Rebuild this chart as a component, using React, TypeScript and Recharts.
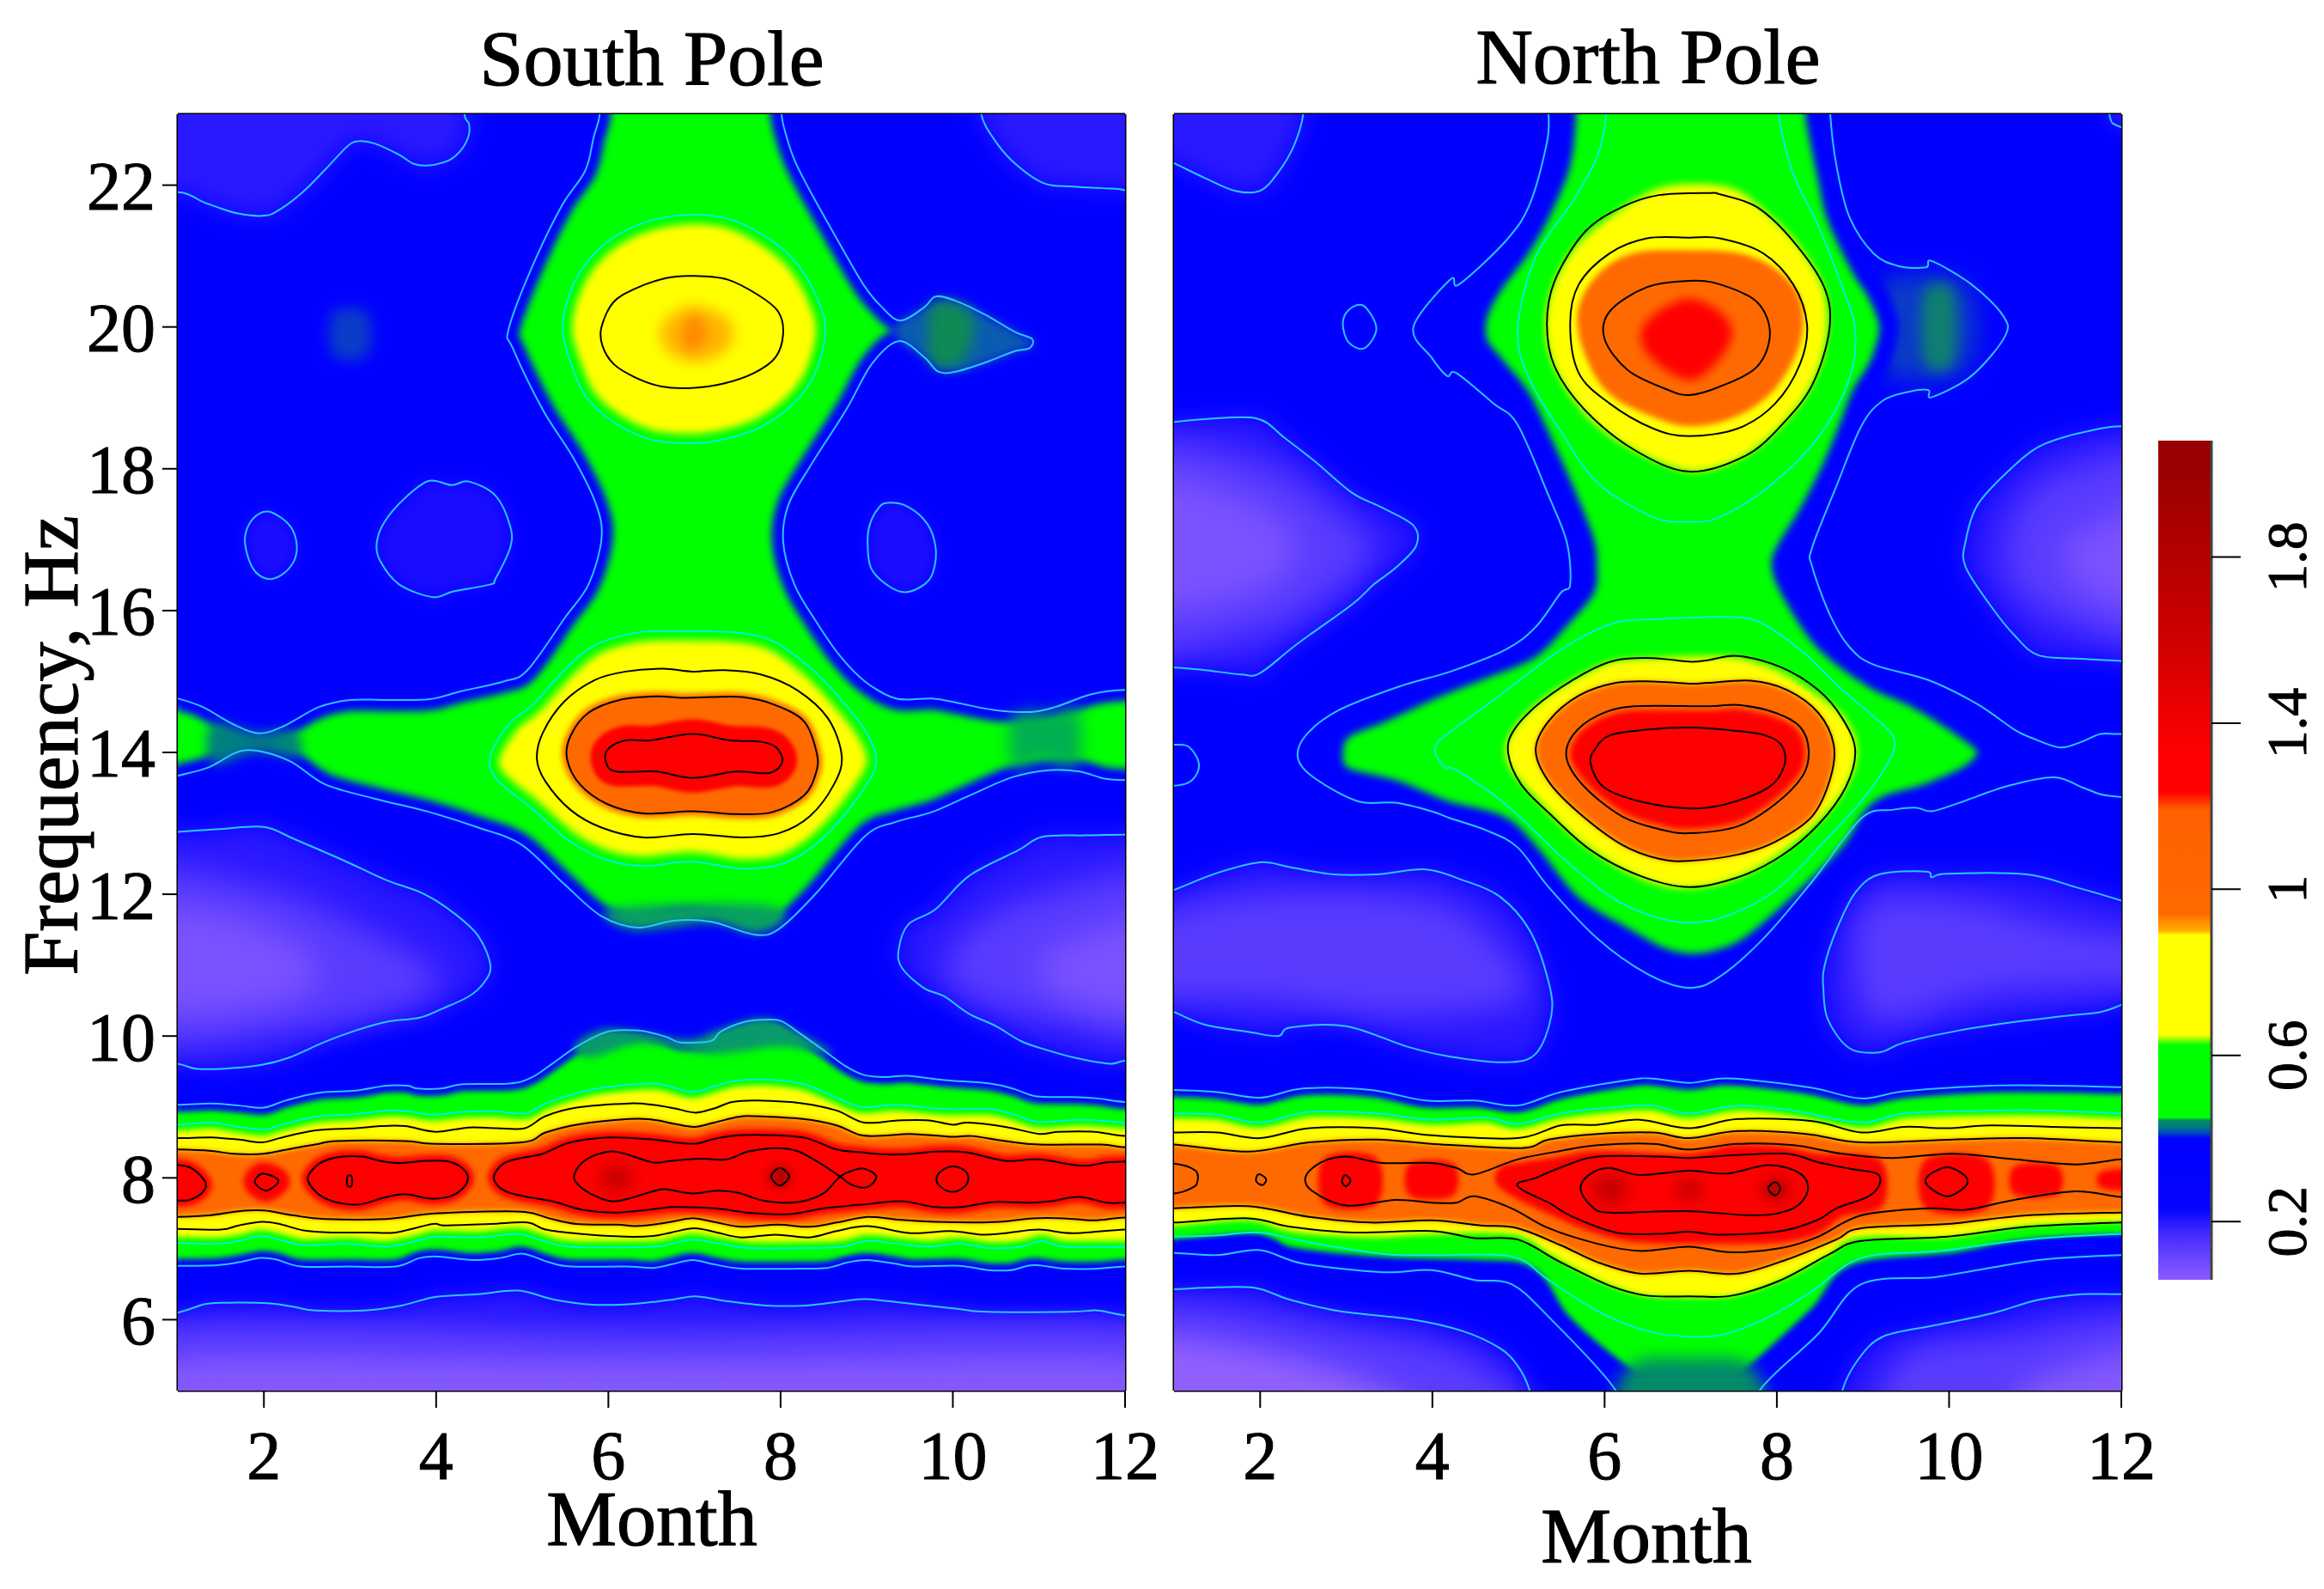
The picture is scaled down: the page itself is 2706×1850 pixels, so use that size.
import { BarChart, Bar, ScatterChart, Scatter, XAxis, YAxis } from "recharts"

type Ring = [number, number][]

const monthTicks = [2, 4, 6, 8, 10, 12]
const freqTicks = [6, 8, 10, 12, 14, 16, 18, 20, 22]
const scaleTicks = [0.2, 0.6, 1, 1.4, 1.8]

// colour scale: values and the colour at each
const scaleValues = [0.06, 0.12, 0.18, 0.23, 0.4, 0.415, 0.43, 0.445, 0.45, 0.625, 0.65, 0.89, 0.9, 0.93, 0.94, 1.19, 1.235, 1.32, 1.59, 1.8, 1.99, 2.08]
const scaleColors = ["#8a5cff", "#6642ff", "#3c24ff", "#0404ff", "#0000ff", "#0050b8", "#007c80", "#009060", "#00ff00", "#00ff00", "#ffff00", "#ffff00", "#ffb000", "#ff8000", "#ff6a00", "#ff6000", "#ff0000", "#ff0000", "#d00000", "#b40000", "#9c0000", "#960000"]

// ---- South Pole contours, [month, Hz] ----
const southTopLeft: Ring = [[0.5,21.7],[0.99,21.9],[1.34,21.74],[1.7,21.6],[2.01,21.57],[2.19,21.66],[2.45,21.9],[2.72,22.23],[2.97,22.55],[3.1,22.62],[3.28,22.59],[3.57,22.43],[3.74,22.3],[3.92,22.28],[4.15,22.35],[4.3,22.51],[4.38,22.71],[4.38,22.87],[4.33,22.99],[4.3,23.5],[0.5,23.5]]
const southTopRight: Ring = [[10.3,23.5],[10.33,23],[10.46,22.68],[10.69,22.34],[11.05,22.03],[11.4,21.98],[11.9,21.95],[12.5,21.93],[12.5,23.5]]
const southEye2: Ring = [[1.78,16.95],[1.82,17.2],[1.95,17.37],[2.1,17.38],[2.3,17.2],[2.38,16.95],[2.35,16.7],[2.2,16.5],[2.03,16.45],[1.87,16.6]]
const southEye4: Ring = [[3.31,16.95],[3.4,17.25],[3.65,17.6],[3.92,17.83],[4.18,17.77],[4.38,17.82],[4.69,17.62],[4.86,17.19],[4.86,16.89],[4.69,16.45],[4.63,16.37],[4.2,16.27],[3.96,16.19],[3.57,16.37],[3.35,16.7]]
const southEye9: Ring = [[9.24,17.52],[9.47,17.47],[9.7,17.23],[9.8,16.89],[9.77,16.54],[9.67,16.37],[9.45,16.26],[9.25,16.35],[9.05,16.6],[9.01,16.97],[9.04,17.23],[9.14,17.45]]
const southLowLeft: Ring = [[0.5,12.85],[1,12.88],[1.5,12.92],[2,12.95],[2.35,12.78],[2.92,12.48],[3.42,12.2],[3.85,12.01],[4.21,11.73],[4.49,11.41],[4.63,11],[4.56,10.76],[4.38,10.56],[4.06,10.38],[3.81,10.26],[3.42,10.2],[3.07,10.08],[2.71,9.92],[2.28,9.69],[1.96,9.59],[1.54,9.54],[1.21,9.54],[1,9.61],[0.5,9.7]]
const southLowRight: Ring = [[12.5,12.84],[12,12.84],[11.54,12.83],[11.04,12.81],[10.76,12.62],[10.19,12.26],[9.8,11.79],[9.48,11.57],[9.37,11.21],[9.41,10.96],[9.66,10.68],[9.9,10.56],[10.18,10.32],[10.5,10.14],[10.79,9.93],[11.07,9.81],[11.43,9.69],[11.82,9.61],[12,9.65],[12.5,9.7]]
const southFloor: Ring = [[0.5,6],[1,6.1],[1.32,6.22],[1.57,6.24],[2.07,6.23],[2.35,6.18],[2.6,6.13],[3.17,6.13],[3.6,6.2],[3.99,6.32],[4.49,6.36],[4.95,6.41],[5.38,6.28],[5.81,6.21],[6.27,6.22],[6.52,6.25],[6.73,6.28],[7.01,6.33],[7.33,6.27],[7.83,6.2],[8.3,6.2],[8.72,6.26],[9.01,6.29],[9.54,6.22],[10.07,6.15],[10.4,6.11],[11.36,6.11],[11.68,6.13],[12,6.06],[12.5,6],[12.5,4.5],[0.5,4.5]]

const southBody: Ring = [[5.9,23.5],[5.9,23],[5.83,22.68],[5.73,22.2],[5.45,21.69],[5.09,20.78],[4.84,19.96],[4.89,19.7],[5.24,18.83],[5.6,18.14],[5.86,17.49],[5.92,17.01],[5.77,16.37],[5.49,15.89],[5.06,15.16],[4.78,15],[4.28,14.86],[3.92,14.75],[3.42,14.74],[3,14.74],[2.64,14.64],[2.21,14.36],[1.93,14.27],[1.64,14.4],[1.29,14.64],[1,14.76],[0.5,14.9],[0.5,13.5],[1,13.67],[1.36,13.79],[1.78,14.03],[2.28,13.89],[2.71,13.55],[3.28,13.35],[3.92,13.16],[4.49,12.94],[4.99,12.7],[5.49,12.14],[5.92,11.69],[6.34,11.53],[6.77,11.63],[7.2,11.61],[7.7,11.43],[7.98,11.51],[8.41,12.01],[8.98,12.82],[9.34,13.02],[9.76,13.16],[10.19,13.39],[10.69,13.65],[11.11,13.75],[11.47,13.73],[11.76,13.63],[12,13.61],[12.5,13.6],[12.5,14.85],[12,14.88],[11.61,14.82],[11.19,14.64],[10.9,14.57],[10.47,14.6],[10.05,14.7],[9.76,14.76],[9.34,14.76],[8.98,15],[8.69,15.36],[8.41,15.85],[8.16,16.37],[8.03,16.97],[8.09,17.49],[8.35,18.05],[8.76,18.83],[9.06,19.48],[9.37,19.8],[9.67,19.57],[9.83,19.37],[10.03,19.37],[10.38,19.5],[10.72,19.66],[10.89,19.7],[10.92,19.83],[10.72,19.93],[10.38,20.17],[10.03,20.37],[9.8,20.43],[9.67,20.28],[9.39,20.09],[9.16,20.3],[8.96,20.6],[8.65,21.25],[8.35,21.9],[8.17,22.33],[8.07,22.68],[8.01,23],[8,23.5]]
const southOval20: Ring = [[6.92,21.58],[7.38,21.53],[7.79,21.3],[8.15,20.95],[8.4,20.47],[8.52,19.96],[8.4,19.35],[8.15,18.92],[7.74,18.57],[7.28,18.4],[6.92,18.36],[6.47,18.42],[6.06,18.66],[5.75,19],[5.58,19.44],[5.47,19.96],[5.55,20.47],[5.75,20.91],[6.06,21.26],[6.47,21.49]]
const southBlack20: Ring = [[6.97,20.72],[7.38,20.67],[7.74,20.45],[7.97,20.22],[8.03,19.91],[7.94,19.57],[7.69,19.35],[7.33,19.2],[6.97,19.14],[6.62,19.16],[6.31,19.29],[6.06,19.48],[5.93,19.74],[5.92,20],[6.06,20.35],[6.31,20.54],[6.67,20.69]]
const southSpot20: Ring = [[6.6,19.9],[6.7,20.15],[7,20.3],[7.35,20.15],[7.45,19.9],[7.35,19.65],[7,19.5],[6.7,19.65]]
const southSpot20Core: Ring = [[6.85,19.9],[6.9,20.1],[7.05,20.15],[7.15,19.9],[7.05,19.7],[6.9,19.7]]
const southOval14: Ring = [[6.34,15.69],[5.84,15.51],[5.49,15.16],[5.13,14.68],[4.85,14.4],[4.63,13.95],[4.7,13.63],[5.13,13.19],[5.56,12.74],[5.99,12.48],[6.41,12.4],[6.98,12.46],[7.55,12.36],[8.05,12.44],[8.48,12.78],[8.91,13.39],[9.11,13.87],[8.98,14.31],[8.69,14.76],[8.34,15.2],[7.91,15.57],[7.48,15.69],[6.84,15.71]]
const southBlack14A: Ring = [[6.63,15.18],[6.2,15.14],[5.84,15.02],[5.49,14.72],[5.24,14.28],[5.17,13.91],[5.27,13.59],[5.56,13.19],[5.92,12.94],[6.41,12.8],[6.98,12.85],[7.55,12.8],[7.98,12.86],[8.34,13.1],[8.62,13.55],[8.71,13.95],[8.55,14.48],[8.19,14.88],[7.77,15.1],[7.34,15.16],[6.98,15.14]]
const southBlack14B: Ring = [[6.56,14.79],[6.13,14.74],[5.77,14.56],[5.56,14.23],[5.52,13.91],[5.67,13.55],[5.99,13.27],[6.41,13.14],[6.98,13.17],[7.48,13.13],[7.91,13.16],[8.27,13.39],[8.41,13.71],[8.42,13.99],[8.27,14.44],[7.91,14.68],[7.55,14.78],[7.2,14.78],[6.84,14.77]]
const southBlack14C: Ring = [[6.98,14.26],[6.49,14.17],[6.2,14.17],[6,14.05],[5.97,13.87],[6.09,13.73],[6.56,13.73],[6.98,13.64],[7.48,13.73],[7.87,13.71],[8.02,13.87],[7.95,14.07],[7.77,14.15],[7.41,14.17]]

const southBand1Up: Ring = [[1,9.03],[1.39,9.05],[1.71,9.02],[2,8.99],[2.25,9.09],[2.64,9.2],[3.07,9.23],[3.42,9.3],[3.67,9.3],[3.78,9.26],[4.06,9.26],[4.31,9.32],[4.85,9.33],[5.1,9.41],[5.35,9.61],[5.63,9.85],[5.99,10.06],[6.31,10.08],[6.52,10.04],[6.69,9.98],[6.84,9.91],[7.19,9.93],[7.3,10.06],[7.58,10.2],[7.83,10.23],[8.01,10.21],[8.22,10.04],[8.51,9.79],[8.76,9.57],[8.97,9.45],[9.22,9.42],[9.47,9.44],[9.9,9.38],[10.43,9.33],[10.72,9.25],[10.97,9.15],[11.39,9.14],[11.68,9.12],[12,9.07]]
const southBand1Low: Ring = [[1,6.76],[1.46,6.77],[1.71,6.81],[1.96,6.87],[2.14,6.85],[2.43,6.75],[2.99,6.75],[3.53,6.75],[3.81,6.87],[4.03,6.89],[4.42,6.84],[4.74,6.87],[5.01,6.93],[5.31,6.81],[5.56,6.75],[6.2,6.75],[6.52,6.73],[6.73,6.78],[6.98,6.84],[7.23,6.78],[7.55,6.72],[8.22,6.72],[8.54,6.73],[8.79,6.81],[9.01,6.84],[9.33,6.79],[9.54,6.75],[10.07,6.76],[10.4,6.7],[10.68,6.7],[10.93,6.77],[11.29,6.72],[11.68,6.72],[12,6.75]]
const southBand2Up: Ring = [[1,8.75],[1.39,8.78],[1.71,8.72],[2,8.68],[2.18,8.74],[2.6,8.86],[3.07,8.9],[3.42,8.95],[3.67,8.94],[3.96,8.89],[4.31,8.93],[4.67,8.94],[5.03,8.91],[5.27,9.05],[5.56,9.17],[5.92,9.27],[6.52,9.33],[6.77,9.27],[6.98,9.21],[7.23,9.29],[7.48,9.37],[7.94,9.38],[8.3,9.31],[8.65,9.13],[8.94,9],[9.36,9.03],[9.9,8.97],[10.43,8.97],[10.72,8.89],[11,8.79],[11.5,8.82],[12,8.78]]
const southBand2Low: Ring = [[1,7.08],[1.46,7.07],[1.71,7.11],[1.96,7.18],[2.18,7.13],[2.46,7.05],[2.96,7.07],[3.42,7.03],[3.78,7.11],[3.99,7.17],[4.49,7.16],[4.95,7.21],[5.2,7.13],[5.56,7.03],[6.52,7.03],[6.73,7.07],[6.98,7.13],[7.3,7.07],[7.65,7.01],[8.3,7.01],[8.72,7.03],[9.01,7.11],[9.36,7.07],[9.72,7.03],[10.07,7.07],[10.43,7.01],[10.79,7.03],[11.04,7.11],[11.29,7.03],[12,7.03]]
const southBand3Up: Ring = [[1,8.56],[1.39,8.57],[1.71,8.54],[1.98,8.5],[2.18,8.56],[2.6,8.67],[3.07,8.7],[3.35,8.73],[3.64,8.73],[3.99,8.65],[4.38,8.71],[4.7,8.7],[5.03,8.7],[5.27,8.87],[5.63,8.99],[6.24,9.05],[6.52,9.03],[6.77,8.98],[7.01,8.92],[7.23,8.98],[7.44,9.07],[7.73,9.09],[8.26,9.05],[8.65,8.95],[8.97,8.78],[9.36,8.81],[9.72,8.81],[10,8.75],[10.18,8.78],[10.61,8.72],[11,8.62],[11.22,8.65],[11.64,8.65],[12,8.59]]
const southBand3Low: Ring = [[1,7.28],[1.5,7.27],[1.71,7.33],[1.98,7.38],[2.18,7.35],[2.46,7.26],[2.78,7.23],[3.21,7.23],[3.53,7.23],[3.96,7.35],[4.1,7.33],[4.63,7.35],[5.06,7.37],[5.27,7.27],[5.67,7.21],[6.2,7.17],[6.52,7.18],[6.73,7.23],[7,7.29],[7.26,7.23],[7.55,7.16],[7.94,7.2],[8.33,7.16],[8.65,7.25],[9.01,7.32],[9.51,7.22],[9.97,7.25],[10.33,7.2],[10.61,7.22],[11,7.27],[11.39,7.22],[12,7.27]]
const southBand4Up: Ring = [[1,8.4],[1.39,8.38],[1.64,8.34],[2,8.34],[2.35,8.42],[2.64,8.48],[2.85,8.52],[3.64,8.52],[3.99,8.48],[4.99,8.5],[5.27,8.64],[5.63,8.75],[6.24,8.83],[6.52,8.82],[6.77,8.76],[7,8.72],[7.23,8.78],[7.51,8.86],[7.69,8.87],[8.26,8.83],[8.65,8.74],[8.94,8.6],[9.26,8.6],[9.51,8.62],[9.97,8.58],[10.22,8.59],[10.61,8.52],[11,8.47],[11.71,8.47],[12,8.43]]
const southBand4Low: Ring = [[1,7.45],[1.36,7.47],[1.71,7.53],[2,7.54],[2.35,7.47],[2.71,7.42],[3.42,7.42],[3.89,7.49],[4.42,7.52],[5.03,7.52],[5.31,7.43],[5.63,7.35],[6.09,7.34],[6.31,7.32],[6.52,7.34],[6.77,7.39],[7,7.43],[7.26,7.37],[7.55,7.31],[7.97,7.34],[8.33,7.31],[8.65,7.37],[9.01,7.45],[9.36,7.41],[9.79,7.38],[10.25,7.37],[10.54,7.38],[10.93,7.43],[11.29,7.43],[11.64,7.4],[12,7.44]]

const southRedEdge: Ring = [[0.6,8.18],[1,8.18],[1.18,8.12],[1.32,7.94],[1.29,7.8],[1.14,7.69],[1,7.68],[0.6,7.68]]
const southRed2: Ring = [[2,8.06],[2.14,8],[2.16,7.92],[2.02,7.82],[1.9,7.92],[1.92,8.01]]
const southRed3: Ring = [[2.51,8],[2.64,8.2],[2.85,8.29],[3.14,8.3],[3.35,8.24],[3.57,8.21],[3.89,8.24],[4.14,8.23],[4.3,8.14],[4.37,8],[4.3,7.84],[4.14,7.73],[3.92,7.71],[3.64,7.77],[3.39,7.72],[3.14,7.63],[2.96,7.63],[2.75,7.69],[2.59,7.82]]
const southRedMain: Ring = [[4.67,8],[4.78,8.2],[4.99,8.28],[5.24,8.34],[5.56,8.5],[6.02,8.57],[6.52,8.54],[6.77,8.5],[7.01,8.48],[7.23,8.55],[7.51,8.6],[7.94,8.6],[8.3,8.56],[8.65,8.4],[8.94,8.36],[9.22,8.33],[9.54,8.34],[9.79,8.37],[10.15,8.36],[10.61,8.24],[11,8.26],[11.5,8.17],[11.79,8.22],[12,8.23],[12.5,8.23],[12.5,7.65],[12,7.65],[11.79,7.65],[11.46,7.73],[11.14,7.67],[10.9,7.65],[10.47,7.66],[10.11,7.59],[9.79,7.59],[9.4,7.67],[9.01,7.63],[8.51,7.57],[8.12,7.49],[7.69,7.5],[7.23,7.57],[6.77,7.59],[6.52,7.56],[6.09,7.51],[5.7,7.55],[5.35,7.67],[5.06,7.73],[4.79,7.82]]
const southInner: Ring = [[5.6,8.02],[5.7,8.22],[5.92,8.35],[6.13,8.36],[6.51,8.22],[6.73,8.24],[7.08,8.27],[7.37,8.26],[7.62,8.37],[7.94,8.42],[8.19,8.38],[8.44,8.22],[8.69,8.02],[8.83,7.9],[9.01,7.87],[9.11,8.02],[8.97,8.13],[8.83,8.1],[8.69,8.02],[8.51,7.79],[8.26,7.67],[8.01,7.65],[7.76,7.69],[7.51,7.79],[7.26,7.82],[6.98,7.78],[6.66,7.84],[6.52,7.81],[6.09,7.67],[5.84,7.75],[5.67,7.88]]
const southRing8: Ring = [[7.99,8.14],[8.1,8.02],[7.99,7.89],[7.89,8.02]]
const southRing10: Ring = [[10,8.16],[10.14,8.1],[10.18,8],[10.14,7.88],[10,7.8],[9.86,7.87],[9.81,7.98],[9.86,8.09]]
const southRing3: Ring = [[2.97,8.02],[3.02,8.02],[3.02,7.89],[2.97,7.89]]
const southDark6: Ring = [[5.9,8],[6.1,8.17],[6.3,8],[6.1,7.83]]
const southDark8: Ring = [[7.85,8.02],[7.99,8.18],[8.13,8.02],[7.99,7.85]]

// darker stretches inside the south green contour
const southTail: Ring = [[9.3,19.95],[9.7,20.28],[10.05,20.36],[10.4,20.15],[10.75,19.92],[10.95,19.75],[10.75,19.66],[10.4,19.5],[10.03,19.38],[9.67,19.57]]
const southTailCore: Ring = [[9.75,20.3],[10.1,20.3],[10.25,20],[10.1,19.5],[9.75,19.5]]
const southFaint3: Ring = [[2.8,20.2],[3.2,20.2],[3.2,19.6],[2.8,19.6]]
const southNeckLeft: Ring = [[1.4,14.4],[1.9,14.28],[2.35,14.3],[2.4,13.95],[1.9,14],[1.4,13.85]]
const southNeckRight: Ring = [[10.7,14.5],[11.2,14.55],[11.45,14.6],[11.45,13.85],[11,13.9],[10.7,13.8]]
const southChin: Ring = [[5.95,11.75],[6.6,11.85],[7.8,11.85],[8.05,11.65],[7.7,11.45],[7.2,11.6],[6.3,11.5]]
const southBump: Ring = [[5.6,9.85],[6,10.1],[6.9,9.95],[7.3,10.1],[7.8,10.25],[8.2,10.05],[8.6,9.75],[8,9.85],[7.2,9.75],[6.4,9.9],[5.8,9.7]]

// violet shading, two steps inside the lowest contours
const southLowLeftMid: Ring = [[0.5,12.2],[2,12.1],[3.2,11.5],[4,10.9],[3.8,10.5],[2.5,10.1],[0.5,10]]
const southLowLeftCore: Ring = [[0.5,11.7],[1.8,11.6],[2.6,11],[2.2,10.5],[0.5,10.4]]
const southLowRightMid: Ring = [[12.5,12.2],[11,12],[10.2,11.5],[9.9,10.9],[10.3,10.5],[11.2,10.2],[12.5,10.1]]
const southLowRightCore: Ring = [[12.5,11.6],[11.5,11.4],[11,11],[11.4,10.5],[12.5,10.4]]
const southFloorMid: Ring = [[0.5,5.85],[6.5,5.85],[12.5,5.85],[12.5,4.5],[0.5,4.5]]
const southFloorCore: Ring = [[0.5,5.4],[6.5,5.4],[12.5,5.4],[12.5,4.5],[0.5,4.5]]

// ---- North Pole contours ----
const northTopLeft: Ring = [[0.5,22.6],[1,22.31],[1.36,22.1],[1.71,21.92],[2,21.92],[2.21,22.18],[2.39,22.55],[2.5,23],[2.5,23.5],[0.5,23.5]]
const northTopRight: Ring = [[11.8,23.5],[11.86,23],[11.97,22.83],[12.5,22.7],[12.5,23.5]]
const northMidLeft: Ring = [[0.5,18.6],[1,18.66],[1.36,18.7],[1.96,18.71],[2.28,18.44],[2.64,18.1],[3.07,17.66],[3.42,17.45],[3.78,17.2],[3.81,16.91],[3.57,16.6],[3.32,16.37],[3.07,16.09],[2.43,15.53],[2,15.12],[1.78,15.1],[1.36,15.16],[1,15.2],[0.5,15.25]]
const northMidRight: Ring = [[12.5,18.5],[12,18.6],[11.47,18.49],[11.04,18.31],[10.69,17.97],[10.33,17.49],[10.19,16.97],[10.19,16.62],[10.47,16.09],[10.76,15.65],[11.04,15.37],[11.54,15.32],[12,15.29],[12.5,15.25]]
const northEdge14: Ring = [[0.5,14.11],[1,14.11],[1.18,14.07],[1.29,13.83],[1.21,13.61],[1,13.53],[0.5,13.53]]
const northEye3: Ring = [[3.2,20.3],[3.35,19.98],[3.21,19.7],[3.03,19.78],[2.96,20.04],[3.03,20.24]]
const northLowLeft: Ring = [[0.5,11.85],[1,12.06],[1.5,12.3],[2,12.45],[2.35,12.38],[2.85,12.28],[3.35,12.28],[3.92,12.35],[4.35,12.2],[4.78,11.97],[5.13,11.49],[5.35,10.76],[5.38,10.28],[5.2,9.75],[4.85,9.63],[4.21,9.71],[3.71,9.85],[3,10.14],[2.35,10.12],[2.21,10],[1.86,10.06],[1.36,10.16],[1,10.34],[0.5,10.6]]
const northLowRight: Ring = [[12.5,11.7],[12,11.91],[11.47,12.1],[10.9,12.28],[9.98,12.29],[9.8,12.24],[9.73,12.32],[9.19,12.28],[8.91,12.02],[8.69,11.49],[8.55,10.97],[8.54,10.68],[8.59,10.24],[8.84,9.83],[9.19,9.77],[9.48,9.91],[10.12,10.08],[10.76,10.2],[11.33,10.28],[11.76,10.34],[12,10.44],[12.5,10.7]]
const northFloorLeft: Ring = [[0.5,6.43],[1,6.43],[1.36,6.45],[1.93,6.45],[2.35,6.28],[2.92,6.12],[3.78,6],[4.35,5.84],[4.78,5.6],[4.99,5.35],[5.13,5],[5.2,4.5],[0.5,4.5]]
const northFloorRight: Ring = [[8.7,4.5],[8.76,5],[8.94,5.43],[9.23,5.76],[9.83,5.92],[10.47,6.08],[11.04,6.28],[11.54,6.36],[12,6.36],[12.5,6.4],[12.5,4.5]]

const northBodyLine: Ring = [[5.35,23.5],[5.35,23],[5.33,22.6],[5.13,21.73],[4.85,21.21],[4.31,20.6],[4.21,20.67],[3.78,20],[3.99,19.57],[4.17,19.31],[4.28,19.35],[4.71,18.92],[4.99,18.62],[5.35,17.62],[5.56,16.97],[5.6,16.37],[5.49,16.25],[5.2,15.77],[4.85,15.45],[4.21,15.14],[3.64,14.94],[2.92,14.6],[2.53,14.24],[2.44,13.91],[2.64,13.63],[3.14,13.31],[3.57,13.29],[3.99,13.17],[4.21,13.07],[4.63,12.9],[4.99,12.66],[5.35,12.1],[5.92,11.37],[6.49,10.88],[6.98,10.68],[7.34,10.84],[7.84,11.37],[8.41,12.18],[8.98,13.07],[9.34,13.19],[9.62,13.22],[9.8,13.17],[10.12,13.29],[10.69,13.53],[11.22,13.65],[11.54,13.51],[11.76,13.41],[12,13.37],[12.5,13.3],[12.5,14.3],[12,14.26],[11.76,14.26],[11.54,14.15],[11.29,14.07],[10.97,14.2],[10.76,14.32],[10.33,14.68],[9.76,15.02],[9.12,15.24],[8.84,15.49],[8.62,15.93],[8.41,16.62],[8.41,16.89],[8.69,17.75],[8.98,18.6],[9.23,18.96],[9.55,19.09],[9.76,19.11],[9.8,19.01],[10.26,19.31],[10.65,19.87],[10.62,20.17],[10.26,20.6],[9.8,20.93],[9.73,20.84],[9.41,20.86],[9.12,21.04],[8.84,21.56],[8.69,22.29],[8.62,23],[8.62,23.5]]
const northBodyGreen: Ring = [[5.56,23.5],[5.56,23],[5.49,22.29],[5.27,21.64],[5.03,21.12],[4.71,20.6],[4.53,20.17],[4.53,19.78],[4.74,19.44],[5.03,19],[5.27,18.4],[5.56,17.62],[5.77,16.97],[5.8,16.6],[5.77,16.29],[5.49,15.89],[5.13,15.45],[4.56,15.16],[3.99,14.88],[3.42,14.56],[2.96,14.32],[2.85,13.99],[2.96,13.67],[3.57,13.47],[4.14,13.19],[4.78,12.98],[5.13,12.58],[5.63,11.85],[6.27,11.37],[6.63,11.13],[6.98,11.03],[7.34,11.09],[7.7,11.29],[8.27,11.89],[8.84,12.58],[9.19,13.19],[9.76,13.43],[10.26,13.71],[10.44,14.03],[10.19,14.32],[9.62,14.76],[9.12,15.04],[8.55,15.57],[8.19,16.21],[8.05,16.62],[8.12,16.89],[8.34,17.32],[8.62,17.97],[8.84,18.61],[8.98,19.05],[9.19,19.48],[9.3,20],[9.16,20.48],[8.98,20.82],[8.69,21.56],[8.59,22.08],[8.44,23],[8.44,23.5]]
const northLine2Up: Ring = [[6.02,23.5],[6.02,23],[5.92,22.42],[5.63,21.77],[5.2,20.99],[4.99,19.96],[5.13,19.26],[5.49,18.53],[5.92,17.8],[6.56,17.32],[6.98,17.25],[7.34,17.32],[7.91,17.75],[8.48,18.44],[8.84,19.26],[8.91,19.96],[8.76,20.56],[8.48,21.43],[8.19,22.16],[8.02,23],[8.02,23.5]]
const northYellow20: Ring = [[7.05,22.16],[6.56,22.08],[6.06,21.73],[5.56,21.21],[5.27,20.56],[5.2,19.9],[5.35,19.27],[5.77,18.57],[6.34,18.1],[6.98,17.82],[7.55,17.97],[8.05,18.4],[8.48,19.05],[8.69,19.78],[8.66,20.56],[8.34,21.25],[7.91,21.77],[7.55,22.08]]
const northBlack20A: Ring = [[7.2,21.89],[6.63,21.86],[6.2,21.69],[5.77,21.34],[5.42,20.65],[5.33,20.04],[5.42,19.44],[5.77,18.83],[6.34,18.27],[6.98,17.96],[7.63,18.18],[8.05,18.61],[8.41,19.18],[8.61,19.96],[8.55,20.56],[8.19,21.21],[7.77,21.69],[7.34,21.87]]
const northBlack20B: Ring = [[6.98,21.26],[6.49,21.25],[6.06,21.04],[5.7,20.6],[5.6,20.04],[5.7,19.35],[6.06,18.92],[6.56,18.57],[6.98,18.46],[7.55,18.57],[7.98,18.92],[8.27,19.48],[8.35,20.04],[8.19,20.6],[7.84,21.04],[7.34,21.25]]
const northOrange20: Ring = [[6.98,21.08],[6.34,21.04],[5.92,20.74],[5.69,20.22],[5.77,19.62],[6.06,19.05],[6.63,18.7],[7.05,18.6],[7.55,18.75],[7.98,19.13],[8.27,19.78],[8.27,20.39],[7.98,20.82],[7.55,21.04]]
const northBlack20C: Ring = [[6.98,20.65],[6.49,20.56],[6.06,20.22],[6,19.83],[6.27,19.39],[6.7,19.13],[6.98,19.04],[7.34,19.16],[7.77,19.44],[7.92,19.91],[7.77,20.35],[7.34,20.6]]
const northRed20: Ring = [[6.98,20.4],[6.6,20.2],[6.42,19.9],[6.55,19.55],[6.98,19.25],[7.3,19.5],[7.48,19.9],[7.35,20.2]]
const northHaze20: Ring = [[9.2,20.6],[10.2,20.6],[10.2,19.4],[9.2,19.4]]
const northHaze20Core: Ring = [[9.72,20.5],[10.05,20.5],[10.05,19.5],[9.72,19.5]]

const northLine14: Ring = [[6.63,15.88],[6.2,15.85],[5.84,15.69],[5.35,15.33],[4.78,14.8],[4.24,14.32],[4.03,14.07],[4.14,13.79],[4.28,13.75],[4.85,13.27],[5.49,12.54],[6.06,11.97],[6.56,11.69],[6.98,11.6],[7.41,11.69],[7.98,12.05],[8.55,12.74],[8.98,13.31],[9.26,13.79],[9.37,14.11],[9.26,14.36],[8.76,14.88],[8.27,15.45],[7.77,15.85],[7.34,15.91]]
const northYellow14: Ring = [[6.63,15.43],[6.06,15.37],[5.56,15.08],[5.13,14.72],[4.81,14.24],[4.81,13.79],[5.13,13.31],[5.56,12.78],[6.06,12.34],[6.56,12.06],[6.98,11.99],[7.48,12.1],[8.05,12.46],[8.62,13.06],[8.91,13.55],[9.01,14.07],[8.84,14.56],[8.48,14.92],[8.05,15.24],[7.55,15.43],[7.05,15.45]]
const northBlack14A: Ring = [[6.56,15.33],[6.13,15.3],[5.77,15.12],[5.27,14.72],[4.95,14.32],[4.88,13.99],[5.03,13.55],[5.35,13.15],[5.84,12.62],[6.41,12.26],[6.98,12.1],[7.55,12.24],[8.05,12.54],[8.48,12.98],[8.8,13.51],[8.91,14.03],[8.76,14.48],[8.48,14.88],[8.05,15.2],[7.55,15.36],[7.2,15.3],[6.98,15.28]]
const northBlack14B: Ring = [[6.56,15],[6.13,14.98],[5.7,14.8],[5.35,14.44],[5.2,14.03],[5.35,13.59],[5.7,13.15],[6.2,12.7],[6.63,12.5],[6.98,12.47],[7.55,12.56],[7.98,12.74],[8.41,13.1],[8.62,13.63],[8.66,14.11],[8.48,14.56],[8.12,14.88],[7.7,15.01],[7.2,14.98],[6.98,14.97]]
const northBlack14C: Ring = [[6.34,14.65],[5.92,14.52],[5.63,14.24],[5.56,13.91],[5.77,13.51],[6.2,13.1],[6.63,12.92],[6.98,12.86],[7.55,12.96],[7.98,13.27],[8.3,13.67],[8.37,14.03],[8.27,14.36],[7.98,14.56],[7.55,14.67],[7.2,14.65]]
const northBlack14D: Ring = [[6.98,14.35],[6.49,14.32],[6.06,14.24],[5.88,14.03],[5.84,13.83],[5.99,13.51],[6.41,13.31],[6.98,13.21],[7.41,13.27],[7.91,13.51],[8.09,13.83],[8.05,14.11],[7.84,14.25],[7.48,14.31]]

const northBand1Up: Ring = [[1,9.24],[1.5,9.21],[2,9.13],[2.5,9.26],[3.28,9.24],[3.92,9.09],[4.49,9.09],[4.99,9.02],[5.49,9.21],[6.27,9.38],[6.56,9.4],[6.98,9.34],[7.34,9.4],[7.7,9.38],[8.41,9.27],[8.98,9.12],[9.48,9.22],[10.47,9.3],[11.26,9.3],[12,9.28]]
const northBand1Low: Ring = [[1,6.94],[1.5,6.91],[2,6.98],[2.5,6.79],[3.42,6.67],[3.99,6.7],[4.49,6.56],[4.92,6.5],[5.35,6.04],[6.13,5],[6.13,4.5],[7.8,4.5],[7.8,5],[8.48,5.8],[8.98,6.5],[9.83,6.6],[10.47,6.73],[11.11,6.85],[12,6.91]]
const northGreenLow: Ring = [[1,7.05],[2,7.13],[2.35,6.93],[3.42,6.79],[4.49,6.75],[5.13,6.65],[5.49,6.04],[5.92,5.55],[6.41,5.11],[6.63,5],[6.7,4.5],[7.3,4.5],[7.48,5],[7.91,5.47],[8.48,6.12],[8.91,6.69],[10.05,6.85],[10.9,7.05],[12,7.13]]
const northTipTeal: Ring = [[6.3,5.35],[7,5.45],[7.7,5.35],[7.8,4.5],[6.2,4.5]]
const northBand2Up: Ring = [[1,8.91],[1.5,8.89],[2,8.78],[2.57,8.93],[3.35,8.91],[3.99,8.82],[4.63,8.85],[4.99,8.76],[5.49,8.91],[6.13,9],[6.56,9.02],[6.98,8.91],[7.55,9.02],[8.19,8.95],[8.98,8.78],[9.48,8.91],[10.47,8.95],[11.19,8.95],[12,8.91]]
const northBand2Low: Ring = [[1,7.17],[1.5,7.19],[2,7.23],[2.57,7.09],[3.42,6.93],[3.99,6.91],[4.92,6.89],[5.35,6.56],[5.92,6.12],[6.49,5.84],[6.98,5.76],[7.41,5.8],[7.91,6.04],[8.41,6.4],[8.98,6.87],[9.9,6.97],[10.9,7.13],[12,7.21]]
const northYellowLow: Ring = [[1,7.25],[1.86,7.33],[2.35,7.17],[3.28,7.09],[3.99,7.13],[4.92,7.13],[5.35,6.85],[5.92,6.48],[6.41,6.28],[6.98,6.24],[7.48,6.26],[8.05,6.48],[8.62,6.85],[8.98,7.09],[9.98,7.09],[10.9,7.25],[12,7.31]]
const northBand3Up: Ring = [[1,8.64],[1.5,8.64],[2,8.56],[2.57,8.7],[3.35,8.7],[3.99,8.6],[4.99,8.56],[5.49,8.74],[5.92,8.75],[6.41,8.82],[6.98,8.7],[7.55,8.83],[8.41,8.8],[8.98,8.64],[9.48,8.72],[9.98,8.7],[10.47,8.74],[11.19,8.72],[12,8.7]]
const northBand3Low: Ring = [[1,7.37],[1.86,7.43],[2.35,7.31],[3.07,7.23],[3.99,7.25],[4.49,7.15],[4.99,7.13],[5.49,6.81],[6.06,6.48],[6.49,6.34],[6.98,6.33],[7.48,6.34],[8.05,6.56],[8.62,6.93],[8.98,7.11],[9.98,7.17],[10.9,7.31],[12,7.37]]
const northBand4Up: Ring = [[1,8.47],[1.86,8.37],[2.57,8.5],[3.35,8.54],[3.99,8.48],[5.03,8.42],[5.35,8.54],[5.92,8.62],[6.56,8.64],[6.98,8.56],[7.55,8.66],[8.34,8.62],[8.98,8.5],[10.05,8.54],[10.9,8.56],[12,8.5]]
const northBand4Low: Ring = [[1,7.57],[1.86,7.6],[2.57,7.45],[3.28,7.37],[3.99,7.4],[4.56,7.33],[4.99,7.29],[5.49,7.05],[5.92,6.81],[6.41,6.65],[6.98,6.69],[7.55,6.65],[8.12,6.85],[8.69,7.13],[8.98,7.29],[9.98,7.35],[10.9,7.47],[12,7.51]]
const northBand5: Ring = [[2.53,8.02],[2.71,8.22],[3,8.3],[3.42,8.21],[3.99,8.21],[4.28,8.14],[4.49,8.05],[4.99,8.26],[5.49,8.38],[5.92,8.46],[6.56,8.48],[6.98,8.4],[7.55,8.48],[8.19,8.46],[8.76,8.34],[9.34,8.28],[10.05,8.34],[10.76,8.26],[11.47,8.19],[12,8.26],[12.5,8.26],[12.5,7.73],[12,7.73],[11.47,7.81],[10.76,7.69],[10.19,7.55],[9.76,7.57],[8.98,7.47],[8.48,7.17],[8.05,7.01],[7.48,6.95],[6.98,7.03],[6.41,6.97],[5.92,7.07],[5.35,7.29],[4.92,7.57],[4.49,7.74],[4.28,7.65],[3.99,7.65],[3.57,7.69],[3,7.61],[2.6,7.82]]
const northRedCentre: Ring = [[4.78,8.14],[5.06,8.22],[5.49,8.3],[5.92,8.38],[6.98,8.34],[7.48,8.46],[8.05,8.44],[8.48,8.34],[9.19,8.26],[9.23,7.61],[8.76,7.45],[8.48,7.21],[8.05,7.09],[7.34,7.07],[6.41,7.09],[5.92,7.21],[5.35,7.49],[4.78,7.86]]
const northRedSpotA: Ring = [[2.75,8.28],[3.35,8.28],[3.35,7.63],[2.75,7.63]]
const northRedSpotB: Ring = [[3.74,8.2],[4.24,8.2],[4.24,7.75],[3.74,7.75]]
const northRedSpotC: Ring = [[9.73,8.26],[10.44,8.26],[10.44,7.57],[9.73,7.57]]
const northRedSpotD: Ring = [[10.76,8.16],[11.26,8.16],[11.26,7.77],[10.76,7.77]]
const northRedSpotE: Ring = [[11.8,8.1],[12.5,8.1],[12.5,7.85],[11.8,7.85]]
const northInnerA: Ring = [[4.99,7.92],[5.2,8],[5.56,8.18],[5.92,8.3],[6.63,8.3],[6.98,8.28],[7.48,8.32],[8.12,8.34],[8.48,8.22],[8.84,8.13],[9.16,8.06],[9.19,7.9],[9.05,7.73],[8.69,7.57],[8.48,7.41],[8.05,7.25],[7.34,7.2],[6.98,7.24],[6.63,7.21],[6.13,7.23],[5.63,7.45],[5.35,7.65],[5.06,7.82]]
const northInnerB: Ring = [[5.72,7.86],[5.84,8.06],[6.06,8.14],[6.41,8.04],[6.98,8.1],[7.41,8.06],[7.91,8.18],[8.27,8.06],[8.36,7.82],[8.19,7.57],[7.77,7.47],[6.98,7.53],[6.06,7.51],[5.84,7.61]]
const northRing8: Ring = [[7.9,7.85],[7.98,7.94],[8.04,7.85],[7.98,7.75]]
const northRing3: Ring = [[2.99,8.04],[3.05,7.96],[2.99,7.88],[2.95,7.96]]
const northRing2: Ring = [[2,8.05],[2.07,7.98],[2.03,7.9],[1.96,7.94],[1.96,8.02]]
const northEdge8: Ring = [[0.5,8.2],[1,8.2],[1.25,8.1],[1.27,7.94],[1.21,7.86],[1,7.78],[0.5,7.78]]
const northRing10: Ring = [[9.98,8.15],[10.19,8.02],[10.19,7.88],[9.98,7.74],[9.76,7.88],[9.75,8.02]]
const northDark6: Ring = [[5.85,7.85],[6.06,8.05],[6.28,7.85],[6.06,7.62]]
const northDark7: Ring = [[6.8,7.83],[6.98,8],[7.16,7.83],[6.98,7.65]]
const northDark8: Ring = [[7.8,7.85],[7.98,8.02],[8.16,7.85],[7.98,7.65]]

const northMidLeftMid: Ring = [[0.5,18.2],[2,18.1],[3,17.3],[3.3,16.8],[2.6,16],[1.8,15.6],[0.5,15.6]]
const northMidLeftCore: Ring = [[0.5,17.8],[1.7,17.6],[2.4,17],[2,16.3],[0.5,16.1]]
const northMidRightMid: Ring = [[12.5,18.1],[11.2,17.9],[10.7,17.2],[10.7,16.4],[11.4,15.8],[12.5,15.7]]
const northMidRightCore: Ring = [[12.5,17.5],[11.7,17.2],[11.3,16.8],[11.7,16.2],[12.5,16.1]]
const northLowLeftMid: Ring = [[0.5,11.5],[2,12],[4,11.9],[4.9,11.1],[5,10.5],[3.6,10.3],[2,10.5],[0.5,10.6]]
const northLowRightMid: Ring = [[9.1,11.9],[10.2,11.9],[11.2,11.6],[12.5,11.3],[12.5,10.8],[10.5,10.6],[9.2,10.2],[8.9,11]]
const northFloorLeftMid: Ring = [[0.5,6.15],[3,5.85],[4.5,5.4],[4.8,4.5],[0.5,4.5]]
const northFloorLeftCore: Ring = [[0.5,5.7],[2.7,5.35],[3.9,4.5],[0.5,4.5]]
const northFloorRightMid: Ring = [[9.4,4.5],[9.5,5.5],[10.6,5.75],[12.5,6],[12.5,4.5]]
const northFloorRightCore: Ring = [[10.7,4.5],[11.1,5.2],[12.5,5.55],[12.5,4.5]]

const plotBase: Ring = [[0.5,4.5],[12.5,4.5],[12.5,23.5],[0.5,23.5]]

// joins an upper and a lower curve into one ring running past both plot edges
const band = (up: Ring, low: Ring): Ring => [
  [0.5, up[0][1]], ...up, [12.5, up[up.length - 1][1]],
  [12.5, low[low.length - 1][1]], ...[...low].reverse(), [0.5, low[0][1]],
]

const SERIF = '"Liberation Serif", "Times New Roman", serif'
const VIOLET_1 = "#2a18ff"
const VIOLET_2 = "#5a3cff"
const VIOLET_3 = "#7c52ff"
const BLUE = "#0000ff"
const GREEN = "#00ff00"
const YELLOW = "#ffff00"
const ORANGE = "#ff6a00"
const RED = "#ff0000"
const LINE_LOW = "#2cc4ff"
const LINE_HIGH = "#00f0d8"

type Fill = [Ring, string, number, string?, number?] // ring, colour, blur, edge colour, edge width

const southFills: Fill[] = [
  [plotBase, BLUE, 0],
  [southTopLeft, VIOLET_1, 14], [southTopRight, VIOLET_1, 14],
  [southEye2, "#1a0cff", 8], [southEye4, "#1a0cff", 10], [southEye9, "#1a0cff", 8],
  [southLowLeft, VIOLET_1, 14], [southLowLeftMid, VIOLET_2, 18], [southLowLeftCore, VIOLET_3, 18],
  [southLowRight, VIOLET_1, 14], [southLowRightMid, VIOLET_2, 18], [southLowRightCore, VIOLET_3, 18],
  [southFloor, VIOLET_1, 12], [southFloorMid, VIOLET_2, 14], [southFloorCore, "#8458ff", 14],
  [southFaint3, "#0a3cc8", 8],
  [southBody, GREEN, 4, BLUE, 26],
  [southTail, "#0a5cb0", 6], [southTailCore, "#0f8a55", 8],
  [southNeckLeft, "#007f80", 7], [southNeckRight, "#00b050", 9], [southChin, "#08a060", 6],
  [southOval20, YELLOW, 4, GREEN, 22], [southSpot20, "#ffb400", 8], [southSpot20Core, "#ff8c00", 6],
  [southOval14, YELLOW, 4, GREEN, 22],
  [southBlack14B, ORANGE, 3, ORANGE, 10],
  [southBlack14C, RED, 2, RED, 34],
  [band(southBand1Up, southBand1Low), GREEN, 3, BLUE, 16], [southBump, "#089a6a", 5],
  [band(southBand2Up, southBand2Low), YELLOW, 3, GREEN, 14],
  [band(southBand4Up, southBand4Low), ORANGE, 3],
  [southRedEdge, RED, 3, RED, 14], [southRed2, RED, 3, RED, 26], [southRed3, RED, 3, RED, 14], [southRedMain, RED, 3, RED, 14],
  [southDark6, "#b80000", 10], [southDark8, "#a80000", 7],
]
const southLines: [Ring, string][] = [
  [southTopLeft, LINE_LOW], [southTopRight, LINE_LOW], [southEye2, LINE_LOW], [southEye4, LINE_LOW], [southEye9, LINE_LOW],
  [southLowLeft, LINE_LOW], [southLowRight, LINE_LOW], [southFloor, LINE_LOW], [southBody, LINE_LOW],
  [band(southBand1Up, southBand1Low), LINE_LOW],
  [southOval20, LINE_HIGH], [southOval14, LINE_HIGH], [band(southBand2Up, southBand2Low), LINE_HIGH],
  [southBlack20, "#000"], [southBlack14A, "#000"], [southBlack14B, "#000"], [southBlack14C, "#000"],
  [band(southBand3Up, southBand3Low), "#000"], [band(southBand4Up, southBand4Low), "#000"],
  [southRedEdge, "#000"], [southRed2, "#000"], [southRed3, "#000"], [southRedMain, "#000"],
  [southInner, "#000"], [southRing8, "#000"], [southRing10, "#000"], [southRing3, "#000"],
]

const northFills: Fill[] = [
  [plotBase, BLUE, 0],
  [northTopLeft, VIOLET_1, 14], [northTopRight, VIOLET_1, 10],
  [northMidLeft, VIOLET_1, 14], [northMidLeftMid, VIOLET_2, 18], [northMidLeftCore, VIOLET_3, 18],
  [northMidRight, VIOLET_1, 14], [northMidRightMid, VIOLET_2, 18], [northMidRightCore, VIOLET_3, 18],
  [northLowLeft, VIOLET_1, 14], [northLowLeftMid, VIOLET_2, 18],
  [northLowRight, VIOLET_1, 14], [northLowRightMid, VIOLET_2, 18],
  [northFloorLeft, VIOLET_1, 12], [northFloorLeftMid, VIOLET_2, 16], [northFloorLeftCore, "#9060ff", 16],
  [northFloorRight, VIOLET_1, 12], [northFloorRightMid, VIOLET_2, 16], [northFloorRightCore, "#8458ff", 16],
  [northHaze20, "#0a3cc8", 14], [northHaze20Core, "#0f7f70", 8],
  [northBodyGreen, GREEN, 4, BLUE, 22],
  [northYellow20, YELLOW, 4, GREEN, 24], [northOrange20, ORANGE, 3], [northRed20, RED, 6],
  [northYellow14, YELLOW, 4, GREEN, 16], [northBlack14B, ORANGE, 3], [northBlack14C, RED, 3, ORANGE, 10],
  [band(northBand1Up, northGreenLow), GREEN, 3, BLUE, 16], [northTipTeal, "#008a6a", 9],
  [band(northBand2Up, northYellowLow), YELLOW, 3, GREEN, 12],
  [band(northBand4Up, northBand4Low), ORANGE, 3],
  [northRedCentre, RED, 3], [northRedSpotA, RED, 3], [northRedSpotB, RED, 3], [northRedSpotC, RED, 3], [northRedSpotD, RED, 3], [northRedSpotE, RED, 3],
  [northDark6, "#bc0000", 10], [northDark7, "#c80000", 9], [northDark8, "#b80000", 8],
]
const northLines: [Ring, string][] = [
  [northTopLeft, LINE_LOW], [northTopRight, LINE_LOW], [northMidLeft, LINE_LOW], [northMidRight, LINE_LOW], [northEdge14, LINE_LOW], [northEye3, LINE_LOW],
  [northLowLeft, LINE_LOW], [northLowRight, LINE_LOW], [northFloorLeft, LINE_LOW], [northFloorRight, LINE_LOW], [northBodyLine, LINE_LOW],
  [band(northBand1Up, northBand1Low), LINE_LOW],
  [northLine2Up, LINE_HIGH], [northLine14, LINE_HIGH], [band(northBand2Up, northBand2Low), LINE_HIGH],
  [northBlack20A, "#000"], [northBlack20B, "#000"], [northBlack20C, "#000"],
  [northBlack14A, "#000"], [northBlack14B, "#000"], [northBlack14C, "#000"], [northBlack14D, "#000"],
  [band(northBand3Up, northBand3Low), "#000"], [band(northBand4Up, northBand4Low), "#000"], [northBand5, "#000"],
  [northInnerA, "#000"], [northInnerB, "#000"], [northRing8, "#000"], [northRing3, "#000"], [northRing2, "#000"], [northEdge8, "#000"], [northRing10, "#000"],
]

const toPoints = (ring: Ring) => ring.map(([x, y]) => ({ x, y }))
const noMark = () => <g />

// closed smooth curve through the contour points, for the Curve inside Scatter
const smoothClosed = (ctx: any) => {
  let pts: number[][] = []
  return {
    areaStart() {},
    areaEnd() {},
    lineStart() {
      pts = []
    },
    point(x: number, y: number) {
      pts.push([+x, +y])
    },
    lineEnd() {
      const n = pts.length
      if (!n) return
      ctx.moveTo(pts[0][0], pts[0][1])
      for (let i = 0; i < n; i++) {
        const p0 = pts[(i - 1 + n) % n]
        const p1 = pts[i]
        const p2 = pts[(i + 1) % n]
        const p3 = pts[(i + 2) % n]
        ctx.bezierCurveTo(
          p1[0] + (p2[0] - p0[0]) / 6,
          p1[1] + (p2[1] - p0[1]) / 6,
          p2[0] - (p3[0] - p1[0]) / 6,
          p2[1] - (p3[1] - p1[1]) / 6,
          p2[0],
          p2[1],
        )
      }
      ctx.closePath()
    },
  }
}

const fillSeries = ([ring, fill, blur, edge, edgeWidth]: Fill, i: number) => (
  <Scatter
    key={`fill-${i}`}
    data={toPoints(ring)}
    isAnimationActive={false}
    shape={noMark}
    lineType="joint"
    lineJointType={(blur ? smoothClosed : "linearClosed") as any}
    line={{
      fill,
      stroke: edge ?? "none",
      strokeWidth: edgeWidth ?? 0,
      strokeLinejoin: "round",
      style: blur ? { filter: `blur(${blur}px)` } : undefined,
    }}
  />
)

const lineSeries = ([ring, stroke]: [Ring, string], i: number) => (
  <Scatter
    key={`line-${i}`}
    data={toPoints(ring)}
    isAnimationActive={false}
    shape={noMark}
    lineType="joint"
    lineJointType={smoothClosed as any}
    line={{ fill: "none", stroke, strokeWidth: 2 }}
  />
)

const axisLine = { stroke: "#000", strokeWidth: 3 }
const tickLine = { stroke: "#000", strokeWidth: 2 }
const tickFont = { fontFamily: SERIF, fontSize: 80, fill: "#000", stroke: "#000", strokeWidth: 1 }
const bigText = { fontFamily: SERIF, fontSize: 92, fill: "#000", stroke: "#000", strokeWidth: 1.2 }

function Panel({ x, width, leftAxis, rightAxis, fills, lines, title, titleX, titleY, monthX, monthY, showFreq }: any) {
  return (
    <div style={{ position: "absolute", left: x, top: 0 }}>
      <ScatterChart width={width} height={1850} margin={{ top: 0, right: 0, bottom: 0, left: 0 }}>
        <XAxis xAxisId={0} type="number" dataKey="x" domain={[1, 12]} ticks={monthTicks} allowDataOverflow interval={0} height={231} tickSize={20} tickMargin={26} tick={tickFont} axisLine={axisLine} tickLine={tickLine} />
        <XAxis xAxisId="top" orientation="top" type="number" dataKey="x" domain={[1, 12]} ticks={monthTicks} allowDataOverflow interval={0} height={133} tickSize={19} tick={false} axisLine={axisLine} tickLine={tickLine} />
        <YAxis yAxisId={0} type="number" dataKey="y" domain={[5, 23]} ticks={freqTicks} allowDataOverflow interval={0} width={leftAxis} tickSize={18} tickMargin={8} tick={showFreq ? tickFont : false} axisLine={axisLine} tickLine={tickLine} />
        <YAxis yAxisId="right" orientation="right" type="number" dataKey="y" domain={[5, 23]} ticks={freqTicks} allowDataOverflow interval={0} width={rightAxis} tickSize={20} tick={false} axisLine={axisLine} tickLine={tickLine} />
        {fills.map(fillSeries)}
        {lines.map(lineSeries)}
        <text x={titleX} y={titleY} textAnchor="middle" {...bigText}>{title}</text>
        <text x={monthX} y={monthY} textAnchor="middle" {...bigText}>Month</text>
        {showFreq && (
          <text transform="translate(90,868) rotate(-90)" textAnchor="middle" {...bigText}>Frequency, Hz</text>
        )}
      </ScatterChart>
    </div>
  )
}

const scaleLow = scaleValues[0]
const scaleHigh = scaleValues[scaleValues.length - 1]
const scaleRow = { name: "scale", start: scaleLow, span: scaleHigh - scaleLow }

const RotatedTick = ({ x, y, payload }: any) => (
  <text transform={`translate(${x + 76},${y}) rotate(-90)`} textAnchor="middle" fontFamily={SERIF} fontSize={66} fill="#000" stroke="#000" strokeWidth={1}>
    {payload.value}
  </text>
)

function ColorScale() {
  const edge = { stroke: "#444", strokeWidth: 3 }
  return (
    <div style={{ position: "absolute", left: 2500, top: 0 }}>
      <BarChart width={206} height={1850} data={[scaleRow]} barCategoryGap={0} margin={{ top: 513, right: 0, bottom: 360, left: 13 }}>
        <defs>
          <linearGradient id="scaleFill" x1="0" y1="1" x2="0" y2="0">
            {scaleValues.map((v, i) => (
              <stop key={v} offset={(v - scaleLow) / (scaleHigh - scaleLow)} stopColor={scaleColors[i]} />
            ))}
          </linearGradient>
        </defs>
        <XAxis xAxisId={0} dataKey="name" height={0} tick={false} tickLine={false} axisLine={edge} />
        <XAxis xAxisId="top" dataKey="name" orientation="top" height={0} tick={false} tickLine={false} axisLine={edge} />
        <YAxis yAxisId={0} orientation="right" type="number" domain={[scaleLow, scaleHigh]} ticks={scaleTicks} allowDataOverflow interval={0} width={131} tickSize={34} tickMargin={0} tick={<RotatedTick />} axisLine={edge} tickLine={tickLine} />
        <YAxis yAxisId="left" orientation="left" type="number" domain={[scaleLow, scaleHigh]} width={0} tick={false} tickLine={false} allowDataOverflow axisLine={edge} />
        <Bar dataKey="start" stackId="scale" fill="none" isAnimationActive={false} />
        <Bar dataKey="span" stackId="scale" fill="url(#scaleFill)" isAnimationActive={false} />
      </BarChart>
    </div>
  )
}

export default function App() {
  return (
    <div style={{ position: "absolute", left: 0, top: 0, width: 2706, height: 1850, background: "#fff", overflow: "hidden" }}>
      <Panel x={0} width={1360} leftAxis={207} rightAxis={50} fills={southFills} lines={southLines} title="South Pole" titleX={759} titleY={99} monthX={759} monthY={1799} showFreq />
      <Panel x={1300} width={1230} leftAxis={67} rightAxis={60} fills={northFills} lines={northLines} title="North Pole" titleX={619} titleY={97} monthX={617} monthY={1819} showFreq={false} />
      <ColorScale />
    </div>
  )
}
